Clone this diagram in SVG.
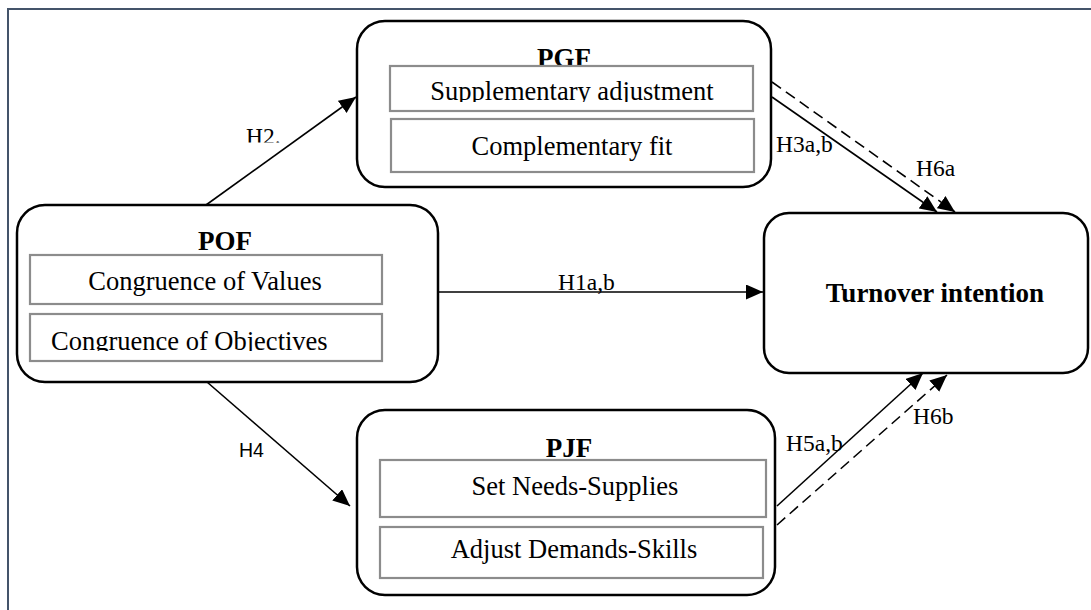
<svg xmlns="http://www.w3.org/2000/svg" width="1091" height="610" viewBox="0 0 1091 610">
<style>
.frame{fill:none;stroke:#44546a;stroke-width:2}
.node{fill:#fff;stroke:#000;stroke-width:2.5}
.item{fill:#fff;stroke:#8c8c8c;stroke-width:2.2}
.t{font-family:"Liberation Serif","Times New Roman",serif;font-size:26.5px;fill:#000}
.title{font-family:"Liberation Serif","Times New Roman",serif;font-size:27px;font-weight:bold;fill:#000;text-anchor:middle}
.mid{text-anchor:middle}
.lab{font-family:"Liberation Serif","Times New Roman",serif;font-size:23.5px;fill:#000}
.edge{fill:none;stroke:#000;stroke-width:1.6}
.dash{stroke-dasharray:11 6}
</style>
<defs>
<marker id="ah" markerUnits="userSpaceOnUse" markerWidth="20" markerHeight="16" refX="17" refY="7.5" orient="auto">
<path d="M0,0 L17,7.5 L0,15 Z" fill="#000"/>
</marker>
<clipPath id="c1"><rect x="390" y="66" width="363" height="36"/></clipPath>
<clipPath id="c2"><rect x="30" y="314" width="352" height="37"/></clipPath>
<clipPath id="c3"><rect x="200" y="100" width="100" height="42.5"/></clipPath>
</defs>
<rect width="1091" height="610" fill="#fff"/>
<path class="frame" d="M8,610 V9 H1091"/>
<g id="connectors">
<line class="edge" x1="206" y1="205" x2="356" y2="97" marker-end="url(#ah)"/>
<line class="edge" x1="772" y1="97" x2="937" y2="212" marker-end="url(#ah)"/>
<line class="edge dash" x1="772" y1="82" x2="955" y2="212" marker-end="url(#ah)"/>
<line class="edge" x1="438" y1="292" x2="763" y2="292" marker-end="url(#ah)"/>
<line class="edge" x1="207" y1="382" x2="350" y2="506" marker-end="url(#ah)"/>
<line class="edge" x1="777" y1="506" x2="923" y2="373" marker-end="url(#ah)"/>
<line class="edge dash" x1="777" y1="525" x2="947" y2="375" marker-end="url(#ah)"/>
<text class="lab" x="246" y="144" font-size="22" clip-path="url(#c3)">H2.</text>
<text class="lab" x="776" y="152">H3a,b</text>
<text class="lab" x="916" y="176">H6a</text>
<text class="lab" x="558" y="290">H1a,b</text>
<text class="lab" x="239" y="457" style="font-family:'Liberation Sans',Arial,sans-serif;font-size:19.5px">H4</text>
<text class="lab" x="786" y="451">H5a,b</text>
<text class="lab" x="913" y="424">H6b</text>
</g>
<g id="PGF">
<rect class="node" x="357" y="21" width="414" height="166" rx="28"/>
<text class="title" x="564" y="67">PGF</text>
<rect class="item" x="390" y="66" width="363" height="45"/>
<text class="t mid" x="572" y="100" clip-path="url(#c1)">Supplementary adjustment</text>
<rect class="item" x="391" y="119" width="363" height="53"/>
<text class="t mid" x="572" y="155">Complementary fit</text>
</g>
<g id="POF">
<rect class="node" x="17" y="205" width="421" height="177" rx="28"/>
<text class="title" x="225" y="250">POF</text>
<rect class="item" x="30" y="255" width="352" height="49"/>
<text class="t mid" x="205" y="290">Congruence of Values</text>
<rect class="item" x="30" y="314" width="352" height="47"/>
<text class="t" x="51" y="350" clip-path="url(#c2)">Congruence of Objectives</text>
</g>
<g id="PJF">
<rect class="node" x="357" y="410" width="418" height="185" rx="28"/>
<text class="title" x="569" y="457">PJF</text>
<rect class="item" x="380" y="460" width="386" height="57"/>
<text class="t mid" x="575" y="495">Set Needs-Supplies</text>
<rect class="item" x="380" y="527" width="383" height="51"/>
<text class="t mid" x="574" y="558">Adjust Demands-Skills</text>
</g>
<g id="Turnover">
<rect class="node" x="764" y="213" width="324" height="160" rx="25"/>
<text class="title" x="935" y="302">Turnover intention</text>
</g>
</svg>
